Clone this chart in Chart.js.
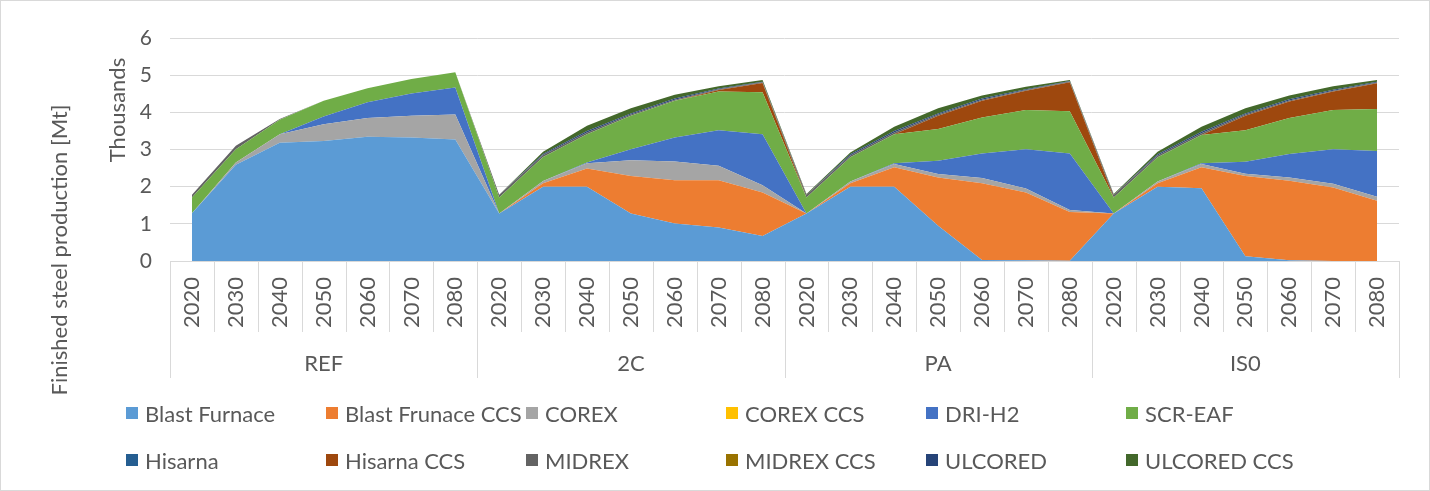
<!DOCTYPE html>
<html>
<head>
<meta charset="utf-8">
<script src="https://cdn.jsdelivr.net/npm/chart.js@4.4.1/dist/chart.umd.min.js"></script>
<style>
  html, body { margin: 0; padding: 0; background: #fff; }
  #wrap { position: relative; width: 1430px; height: 491px; font-family: Lato, "Open Sans", sans-serif; }
  #frame { position: absolute; left: 0; top: 0; right: 0; bottom: 0; border: 1px solid #d9d9d9; pointer-events: none; }
  canvas { position: absolute; left: 0; top: 0; }
  #legend { position: absolute; left: 126px; top: 400px; display: grid; grid-template-columns: repeat(6, 200px); row-gap: 21px; }
  .item { display: flex; align-items: center; height: 26px; font-size: 22px; color: #595959; white-space: nowrap; }
  .sw { width: 12px; height: 12px; margin-right: 7px; flex: none; }
</style>
</head>
<body>
<div id="wrap">
  <canvas id="chart" width="1430" height="491"></canvas>
  <div id="legend"></div>
  <div id="frame"></div>
</div>
<script>
// categories
const groups = ["REF", "2C", "PA", "IS0"];
const years = ["2020", "2030", "2040", "2050", "2060", "2070", "2080"];

// finished steel production [Mt], 7 years per scenario (REF, 2C, PA, IS0)
const blastFurnace = [1280, 2590, 3180, 3230, 3340, 3320, 3270,
                      1280, 2000, 2000, 1280, 1010, 900, 670,
                      1280, 2000, 2000, 950, 30, 20, 10,
                      1280, 2000, 1960, 130, 20, 0, 0];
const blastFurnaceCCS = [0, 0, 0, 0, 0, 0, 0,
                         0, 90, 490, 1010, 1160, 1270, 1170,
                         0, 90, 520, 1300, 2060, 1820, 1310,
                         0, 90, 560, 2160, 2140, 1980, 1620];
const corex = [0, 60, 230, 450, 510, 590, 670,
               0, 60, 140, 420, 510, 390, 200,
               0, 50, 90, 90, 140, 110, 50,
               0, 50, 90, 60, 90, 100, 110];
const corexCCS = [0, 0, 0, 0, 0, 0, 0,  0, 0, 0, 0, 0, 0, 0,  0, 0, 0, 0, 0, 0, 0,  0, 0, 0, 0, 0, 0, 0];
const driH2 = [0, 0, 0, 210, 420, 600, 730,
               0, 0, 20, 300, 640, 960, 1370,
               0, 0, 20, 360, 660, 1060, 1520,
               0, 0, 20, 320, 630, 930, 1230];
const scrEAF = [430, 360, 390, 420, 380, 390, 410,
                430, 650, 760, 900, 990, 1040, 1130,
                430, 650, 780, 850, 970, 1050, 1140,
                430, 650, 760, 850, 970, 1050, 1130];
const hisarna = [0, 0, 0, 0, 0, 0, 0,  0, 0, 0, 0, 0, 0, 0,  0, 0, 0, 0, 0, 0, 0,  0, 0, 0, 0, 0, 0, 0];
const hisarnaCCS = [0, 0, 0, 0, 0, 0, 0,
                    0, 0, 0, 0, 0, 40, 250,
                    0, 0, 0, 360, 450, 520, 780,
                    0, 0, 0, 390, 440, 500, 690];
const midrex = [70, 90, 20, 0, 0, 0, 0,
                70, 50, 50, 30, 30, 20, 20,
                70, 50, 50, 30, 30, 20, 20,
                70, 50, 50, 30, 30, 20, 20];
const midrexCCS = [0, 0, 0, 0, 0, 0, 0,  0, 0, 0, 0, 0, 0, 0,  0, 0, 0, 0, 0, 0, 0,  0, 0, 0, 0, 0, 0, 0];
const ulcored = [0, 0, 0, 0, 0, 0, 0,
                 0, 30, 40, 30, 30, 20, 10,
                 0, 30, 40, 30, 30, 20, 10,
                 0, 30, 40, 30, 30, 30, 20];
const ulcoredCCS = [0, 0, 0, 0, 0, 0, 0,
                    0, 60, 140, 140, 100, 60, 50,
                    20, 50, 110, 140, 80, 70, 30,
                    20, 70, 130, 140, 100, 90, 50];

const yTicks = [0, 1, 2, 3, 4, 5, 6];

const series = [
  ["Blast Furnace", blastFurnace, "#5b9bd5"],
  ["Blast Frunace CCS", blastFurnaceCCS, "#ed7d31"],
  ["COREX", corex, "#a5a5a5"],
  ["COREX CCS", corexCCS, "#ffc000"],
  ["DRI-H2", driH2, "#4472c4"],
  ["SCR-EAF", scrEAF, "#70ad47"],
  ["Hisarna", hisarna, "#255e91"],
  ["Hisarna CCS", hisarnaCCS, "#9e480e"],
  ["MIDREX", midrex, "#636363"],
  ["MIDREX CCS", midrexCCS, "#997300"],
  ["ULCORED", ulcored, "#264478"],
  ["ULCORED CCS", ulcoredCCS, "#43682b"]
];

const labels = [];
groups.forEach(() => years.forEach(y => labels.push(y)));

const textColor = "#595959";
const gridColor = "#d9d9d9";
const family = "Lato, 'Open Sans', sans-serif";
const font = { family: family, size: 22 };

// multi-level category axis: separators + scenario names, plus axis titles
const axisDecor = {
  id: "axisDecor",
  afterDraw(chart) {
    const { ctx, chartArea } = chart;
    const x = chart.scales.x;
    const bottom = chartArea.bottom;
    ctx.save();
    ctx.strokeStyle = gridColor;
    ctx.lineWidth = 1;
    ctx.beginPath();
    ctx.moveTo(chartArea.left, bottom + 0.5);
    ctx.lineTo(chartArea.right, bottom + 0.5);
    for (let i = 0; i <= labels.length; i++) {
      const px = Math.round(x.getPixelForValue(i - 0.5)) + 0.5;
      const len = i % years.length === 0 ? 117 : 71;
      ctx.moveTo(px, bottom);
      ctx.lineTo(px, bottom + len);
    }
    ctx.stroke();

    ctx.fillStyle = textColor;
    ctx.font = font.size + "px " + family;
    ctx.textAlign = "center";
    ctx.textBaseline = "middle";
    groups.forEach((g, gi) => {
      const a = x.getPixelForValue(gi * years.length - 0.5);
      const b = x.getPixelForValue(gi * years.length + years.length - 0.5);
      ctx.fillText(g, (a + b) / 2, bottom + 103);
    });

    ctx.save();
    ctx.translate(118, 110);
    ctx.rotate(-Math.PI / 2);
    ctx.fillText("Thousands", 0, 0);
    ctx.restore();

    ctx.translate(60, 250);
    ctx.rotate(-Math.PI / 2);
    ctx.fillText("Finished steel production [Mt]", 0, 0);
    ctx.restore();
  }
};

new Chart(document.getElementById("chart"), {
  type: "line",
  data: {
    labels: labels,
    datasets: series.map(([name, values, color], i) => ({
      label: name,
      data: values,
      backgroundColor: color,
      borderColor: color,
      borderWidth: 0,
      pointRadius: 0,
      tension: 0,
      fill: i === 0 ? "origin" : "-1"
    }))
  },
  options: {
    responsive: false,
    animation: false,
    layout: { padding: { left: 100, top: 38, right: 31, bottom: 113 } },
    plugins: { legend: { display: false }, tooltip: { enabled: false } },
    scales: {
      x: {
        offset: true,
        grid: { display: false },
        border: { display: false },
        ticks: { autoSkip: false, minRotation: 90, maxRotation: 90, padding: 8, color: textColor, font: font },
        afterFit: s => { s.height = 117; }
      },
      y: {
        stacked: true,
        min: 0,
        max: 6000,
        afterBuildTicks: s => { s.ticks = yTicks.map(v => ({ value: v * 1000 })); },
        ticks: { padding: 18, color: textColor, font: { family: family, size: 21 }, callback: v => v / 1000 },
        grid: { color: gridColor, drawTicks: false },
        border: { display: false },
        afterFit: s => { s.width = 70; }
      }
    }
  },
  plugins: [axisDecor]
});

// legend: 6 fixed-width columns like the original
const legend = document.getElementById("legend");
series.forEach(([name, , color]) => {
  const item = document.createElement("div");
  item.className = "item";
  const sw = document.createElement("span");
  sw.className = "sw";
  sw.style.background = color;
  item.appendChild(sw);
  item.appendChild(document.createTextNode(name));
  legend.appendChild(item);
});
</script>
</body>
</html>
